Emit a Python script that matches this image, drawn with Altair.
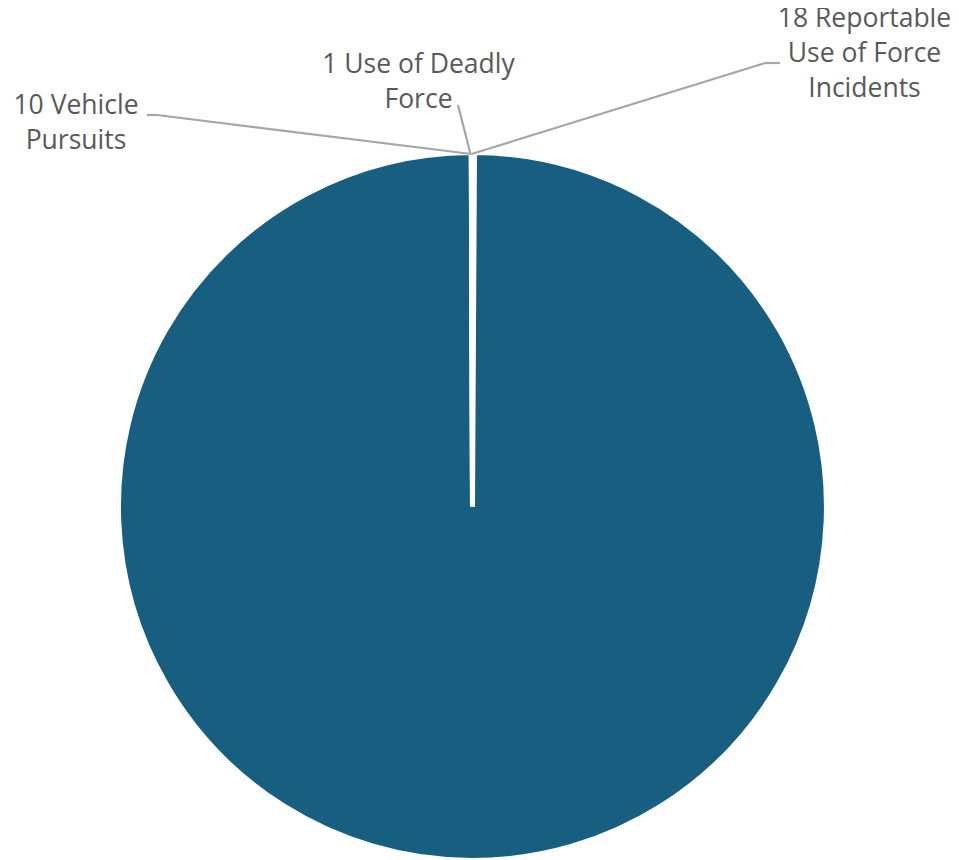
import altair as alt
import pandas as pd

# ---- data ----
categories = ["18 Reportable Use of Force Incidents", "All other activity",
              "1 Use of Deadly Force", "10 Vehicle Pursuits"]
values = [18, 20000, 1, 10]
label_lines = [["18 Reportable", "Use of Force", "Incidents"],
               None,
               ["1 Use of Deadly", "Force"],
               ["10 Vehicle", "Pursuits"]]

PIE_COLOR = "#175e80"
TEXT_COLOR = "#595959"
LINE_COLOR = "#a6a6a6"
FONT = "Open Sans"
FS = 26.5

pie_df = pd.DataFrame({"category": categories, "value": values, "order": range(len(values))})

pie = alt.Chart(pie_df).mark_arc(
    outerRadius=354, stroke="white", strokeWidth=5, color=PIE_COLOR
).encode(
    theta=alt.Theta("value:Q", stack=True),
    order=alt.Order("order:Q"),
    x=alt.value(464.5),
    y=alt.value(498.5),
)

# label positions (layout only)
label_pos = {0: (856.5, 19), 2: (410.5, 65), 3: (68, 106)}
layers = [pie]
for i, (px, py) in label_pos.items():
    df = pd.DataFrame({"txt": ["\n".join(label_lines[i])]})
    layers.append(
        alt.Chart(df).mark_text(
            font=FONT, fontSize=FS, color=TEXT_COLOR, align="center",
            baseline="alphabetic", lineBreak="\n", lineHeight=35,
        ).encode(text="txt:N", x=alt.value(px), y=alt.value(py))
    )

# leader lines (layout only)
segments = [
    (139, 107, 149, 107), (149, 107, 463.5, 146),
    (450, 97, 462.5, 146),
    (463.5, 146, 757, 55), (757, 55, 772, 55),
]
seg_df = pd.DataFrame({"k": [0]})
for (a, b, c, d) in segments:
    layers.append(
        alt.Chart(seg_df).mark_rule(color=LINE_COLOR, strokeWidth=2.2).encode(
            x=alt.value(a), y=alt.value(b), x2=alt.value(c), y2=alt.value(d)
        )
    )

chart = alt.layer(*layers).properties(
    width=943, height=852, padding=0,
    autosize=alt.AutoSizeParams(type="none"),
).configure_view(stroke=None)

chart.save("out.html", embed_options={"renderer": "svg", "actions": False})
